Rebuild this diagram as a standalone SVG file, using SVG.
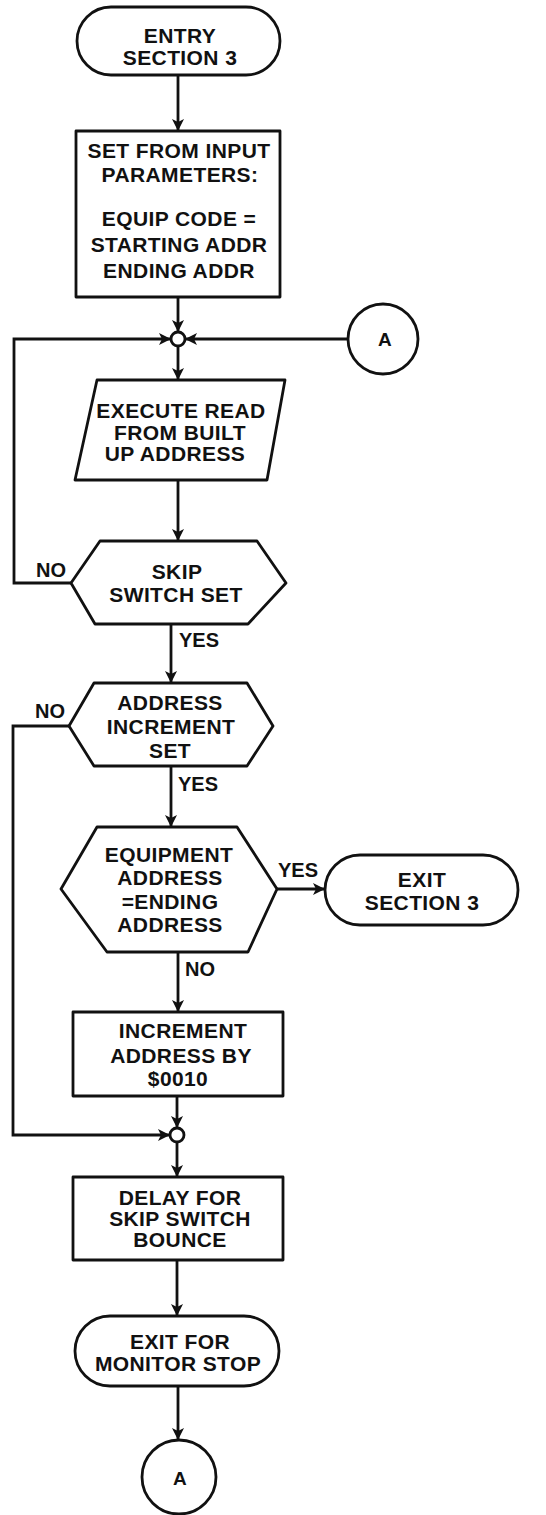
<svg xmlns="http://www.w3.org/2000/svg" width="546" height="1515" viewBox="0 0 546 1515">
<style>
.s{fill:#fff;stroke:#111;stroke-width:2.8;stroke-linejoin:round}
.c{fill:none;stroke:#111;stroke-width:2.8;stroke-linejoin:miter}
.t{font-family:"Liberation Sans",Arial,sans-serif;font-weight:bold;font-size:21px;letter-spacing:0.4px;fill:#111;text-anchor:middle}
.l{font-family:"Liberation Sans",Arial,sans-serif;font-weight:bold;font-size:20px;fill:#111}
</style>
<defs>
<marker id="ah" markerUnits="userSpaceOnUse" markerWidth="14" markerHeight="12" refX="12" refY="6" orient="auto">
<path d="M0,0 L12,6 L0,12 L3,6 z" fill="#111"/>
</marker>
</defs>
<rect width="546" height="1515" fill="#fff"/>
<g id="connectors">
<path class="c" d="M178,75 V131" marker-end="url(#ah)"/>
<path class="c" d="M178,297 V332" marker-end="url(#ah)"/>
<path class="c" d="M71,583 H14 V339 H171" marker-end="url(#ah)"/>
<path class="c" d="M348,339 H185" marker-end="url(#ah)"/>
<path class="c" d="M178,346 V380" marker-end="url(#ah)"/>
<path class="c" d="M178,480 V541" marker-end="url(#ah)"/>
<path class="c" d="M171,624 V683" marker-end="url(#ah)"/>
<path class="c" d="M69,726 H13 V1135 H170" marker-end="url(#ah)"/>
<path class="c" d="M171,766 V827" marker-end="url(#ah)"/>
<path class="c" d="M277,889 H325" marker-end="url(#ah)"/>
<path class="c" d="M178,952 V1012" marker-end="url(#ah)"/>
<path class="c" d="M177,1096 V1128" marker-end="url(#ah)"/>
<path class="c" d="M177,1142 V1177" marker-end="url(#ah)"/>
<path class="c" d="M177,1260 V1316" marker-end="url(#ah)"/>
<path class="c" d="M178,1386 V1440" marker-end="url(#ah)"/>
<text class="l" x="51" y="577" text-anchor="middle">NO</text>
<text class="l" x="179" y="647">YES</text>
<text class="l" x="50" y="718" text-anchor="middle">NO</text>
<text class="l" x="178" y="791">YES</text>
<text class="l" x="298" y="877" text-anchor="middle">YES</text>
<text class="l" x="185" y="976">NO</text>
</g>
<g id="entry">
<rect class="s" x="77" y="7" width="203" height="68" rx="34"/>
<text class="t" x="180" y="43">ENTRY</text>
<text class="t" x="180" y="65">SECTION 3</text>
</g>
<g id="set-params">
<rect class="s" x="76" y="131" width="204" height="166"/>
<text class="t" x="179" y="158">SET FROM INPUT</text>
<text class="t" x="180" y="182">PARAMETERS:</text>
<text class="t" x="179" y="226">EQUIP CODE =</text>
<text class="t" x="179" y="252">STARTING ADDR</text>
<text class="t" x="179" y="278">ENDING ADDR</text>
</g>
<g id="junction1">
<circle class="s" cx="178" cy="339" r="7"/>
</g>
<g id="connector-a-top">
<circle class="s" cx="383" cy="339" r="35"/>
<text class="t" x="385" y="346" style="font-size:19px">A</text>
</g>
<g id="execute-read">
<polygon class="s" points="97,380 285,380 267,480 75,480"/>
<text class="t" x="181" y="418">EXECUTE READ</text>
<text class="t" x="180" y="440">FROM BUILT</text>
<text class="t" x="175" y="461">UP ADDRESS</text>
</g>
<g id="skip-switch">
<polygon class="s" points="71,583 100,541 257,541 286,583 248,624 95,624"/>
<text class="t" x="177" y="579">SKIP</text>
<text class="t" x="176" y="602">SWITCH SET</text>
</g>
<g id="address-increment">
<polygon class="s" points="69,726 94,683 247,683 273,726 247,766 94,766"/>
<text class="t" x="170" y="710">ADDRESS</text>
<text class="t" x="171" y="734">INCREMENT</text>
<text class="t" x="170" y="758">SET</text>
</g>
<g id="equipment-address">
<polygon class="s" points="61,889 97,827 237,827 277,889 248,952 107,952"/>
<text class="t" x="169" y="862">EQUIPMENT</text>
<text class="t" x="170" y="885">ADDRESS</text>
<text class="t" x="170" y="909">=ENDING</text>
<text class="t" x="170" y="932">ADDRESS</text>
</g>
<g id="exit-section3">
<rect class="s" x="325" y="855" width="193" height="70" rx="35"/>
<text class="t" x="422" y="887">EXIT</text>
<text class="t" x="422" y="910">SECTION 3</text>
</g>
<g id="increment-address">
<rect class="s" x="73" y="1012" width="210" height="84"/>
<text class="t" x="183" y="1038">INCREMENT</text>
<text class="t" x="181" y="1063">ADDRESS BY</text>
<text class="t" x="178" y="1086">$0010</text>
</g>
<g id="junction2">
<circle class="s" cx="177" cy="1135" r="7"/>
</g>
<g id="delay">
<rect class="s" x="73" y="1177" width="210" height="83"/>
<text class="t" x="180" y="1205">DELAY FOR</text>
<text class="t" x="180" y="1226">SKIP SWITCH</text>
<text class="t" x="180" y="1247">BOUNCE</text>
</g>
<g id="exit-monitor-stop">
<rect class="s" x="75" y="1316" width="204" height="70" rx="35"/>
<text class="t" x="180" y="1349">EXIT FOR</text>
<text class="t" x="178" y="1371">MONITOR STOP</text>
</g>
<g id="connector-a-bottom">
<circle class="s" cx="179" cy="1477" r="37"/>
<text class="t" x="180" y="1485" style="font-size:19px">A</text>
</g>
</svg>
